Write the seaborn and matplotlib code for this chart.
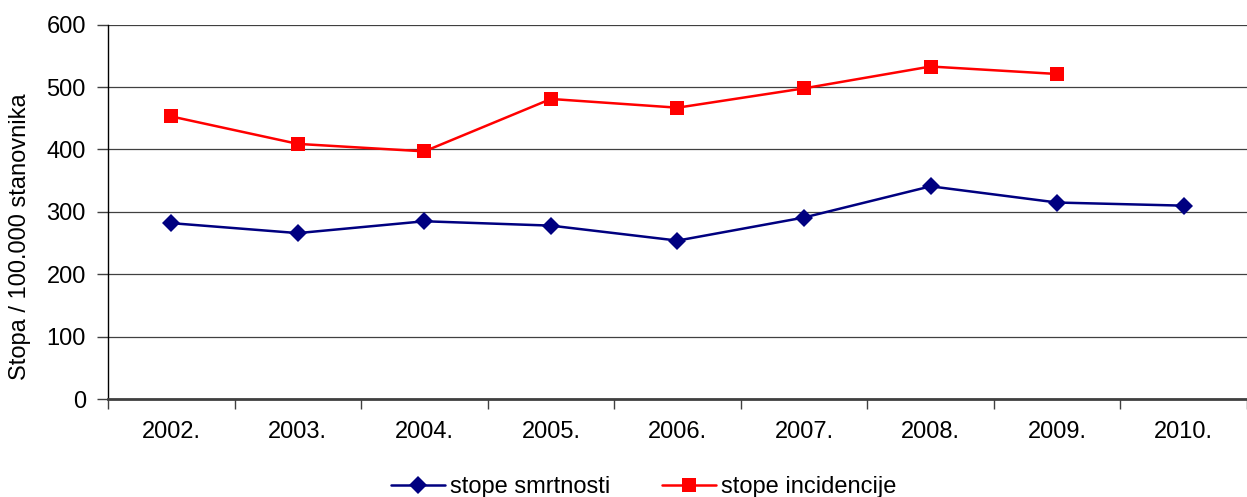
import matplotlib
matplotlib.use("Agg")
import matplotlib.pyplot as plt
import seaborn as sns
import pandas as pd
from matplotlib.ticker import FixedLocator

years = ["2002.", "2003.", "2004.", "2005.", "2006.", "2007.", "2008.", "2009.", "2010."]
smrtnost = [282, 266, 285, 278, 254, 291, 341, 315, 310]
incidencija = [453, 409, 397, 481, 467, 498, 533, 521]
series_names = ["stope smrtnosti", "stope incidencije"]
y_ticks = [0, 100, 200, 300, 400, 500, 600]

df = pd.concat([
    pd.DataFrame({"godina": years, "vrijednost": smrtnost, "serija": series_names[0]}),
    pd.DataFrame({"godina": years[:len(incidencija)], "vrijednost": incidencija, "serija": series_names[1]}),
], ignore_index=True)

sns.set_theme(style="white")
plt.rcParams["font.family"] = ["Liberation Sans", "DejaVu Sans"]
plt.rcParams["text.color"] = "black"
FS = 17

fig = plt.figure(figsize=(12.47, 4.97), dpi=100)
ax = fig.add_axes([0.0866, 0.197, 0.9134, 0.7533])

palette = {series_names[0]: "#000080", series_names[1]: "#FF0000"}
sns.lineplot(data=df, x="godina", y="vrijednost", hue="serija", style="serija",
             markers={series_names[0]: "D", series_names[1]: "s"}, dashes=False,
             palette=palette, linewidth=1.8, markersize=9.5, markeredgewidth=0,
             sort=False, ax=ax)

ax.set_xlim(-0.5, len(years) - 0.5)
ax.set_ylim(0, 600)
ax.set_yticks(y_ticks)
ax.yaxis.grid(True, color="#404040", linewidth=0.9)
ax.set_axisbelow(True)

ax.set_xticks(range(len(years)))
ax.set_xticklabels(years, fontsize=FS)
ax.xaxis.set_minor_locator(FixedLocator([i - 0.5 for i in range(len(years) + 1)]))
ax.tick_params(axis="x", which="major", length=0, pad=16, labelcolor="black")
ax.tick_params(axis="x", which="minor", length=7, width=1, color="#404040", direction="out", bottom=True)
ax.tick_params(axis="y", which="major", length=8, width=1, color="#404040", direction="out", left=True,
               labelsize=FS, pad=8, labelcolor="black")

for s in ["top", "right"]:
    ax.spines[s].set_visible(False)
ax.spines["left"].set_color("black")
ax.spines["left"].set_linewidth(1)
ax.spines["bottom"].set_color("#404040")
ax.spines["bottom"].set_linewidth(2)

ax.set_xlabel("")
ax.set_ylabel("Stopa / 100.000 stanovnika", fontsize=FS, color="black")
ax.yaxis.set_label_coords(-0.0675, 0.433)

ax.legend_.remove()
handles, labels = ax.get_legend_handles_labels()
leg = fig.legend(handles, labels, loc="lower center", bbox_to_anchor=(0.516, -0.045), ncol=2,
                 frameon=False, fontsize=FS, handlelength=2.3, columnspacing=2.2, handletextpad=0.2)
for t in leg.get_texts():
    t.set_color("black")

fig.savefig("out.png", dpi=100)
